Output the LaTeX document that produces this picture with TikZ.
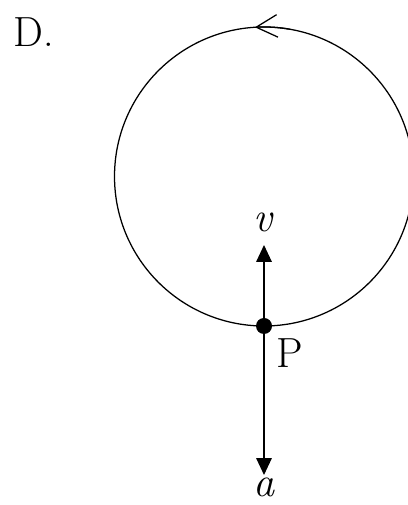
\documentclass[tikz,border=0pt]{standalone}
\usetikzlibrary{arrows.meta}

\begin{document}
\begin{tikzpicture}[font=\fontsize{30}{36}\selectfont,
    lbl/.style={inner sep=0pt},
    vec/.style={-{Triangle[length=12pt,width=11pt]},line width=1pt},
    dot/.style={circle,fill,inner sep=0pt,minimum size=0.4cm}]
    \useasboundingbox (0,0) rectangle (10.2,12.625);
    \coordinate (O) at (6.6,8.2125);
    \draw[line width=0.9pt] (O) circle (3.7375);
    \draw[line width=0.9pt,-{Straight Barb[length=15pt,width=16pt]}] ([shift={(80:3.7375)}]O) arc[start angle=80,end angle=93.5,radius=3.7375];
    \node[dot] (P) at (6.6,4.475) {};
    \coordinate (vtip) at (6.6,6.5);
    \coordinate (atip) at (6.6,0.75);
    \draw[vec] (P) -- (vtip);
    \draw[vec] (P) -- (atip);
    \node[lbl,anchor=base] (v) at (6.6,6.825) {\textit{v}};
    \node[lbl,anchor=base] (a) at (6.6,0.22) {\textit{a}};
    \node[lbl,anchor=base west] (Plbl) at (6.9,3.425) {P};
    \node[lbl,anchor=base west] (D) at (0.325,11.45) {D.};
\end{tikzpicture}
\end{document}
